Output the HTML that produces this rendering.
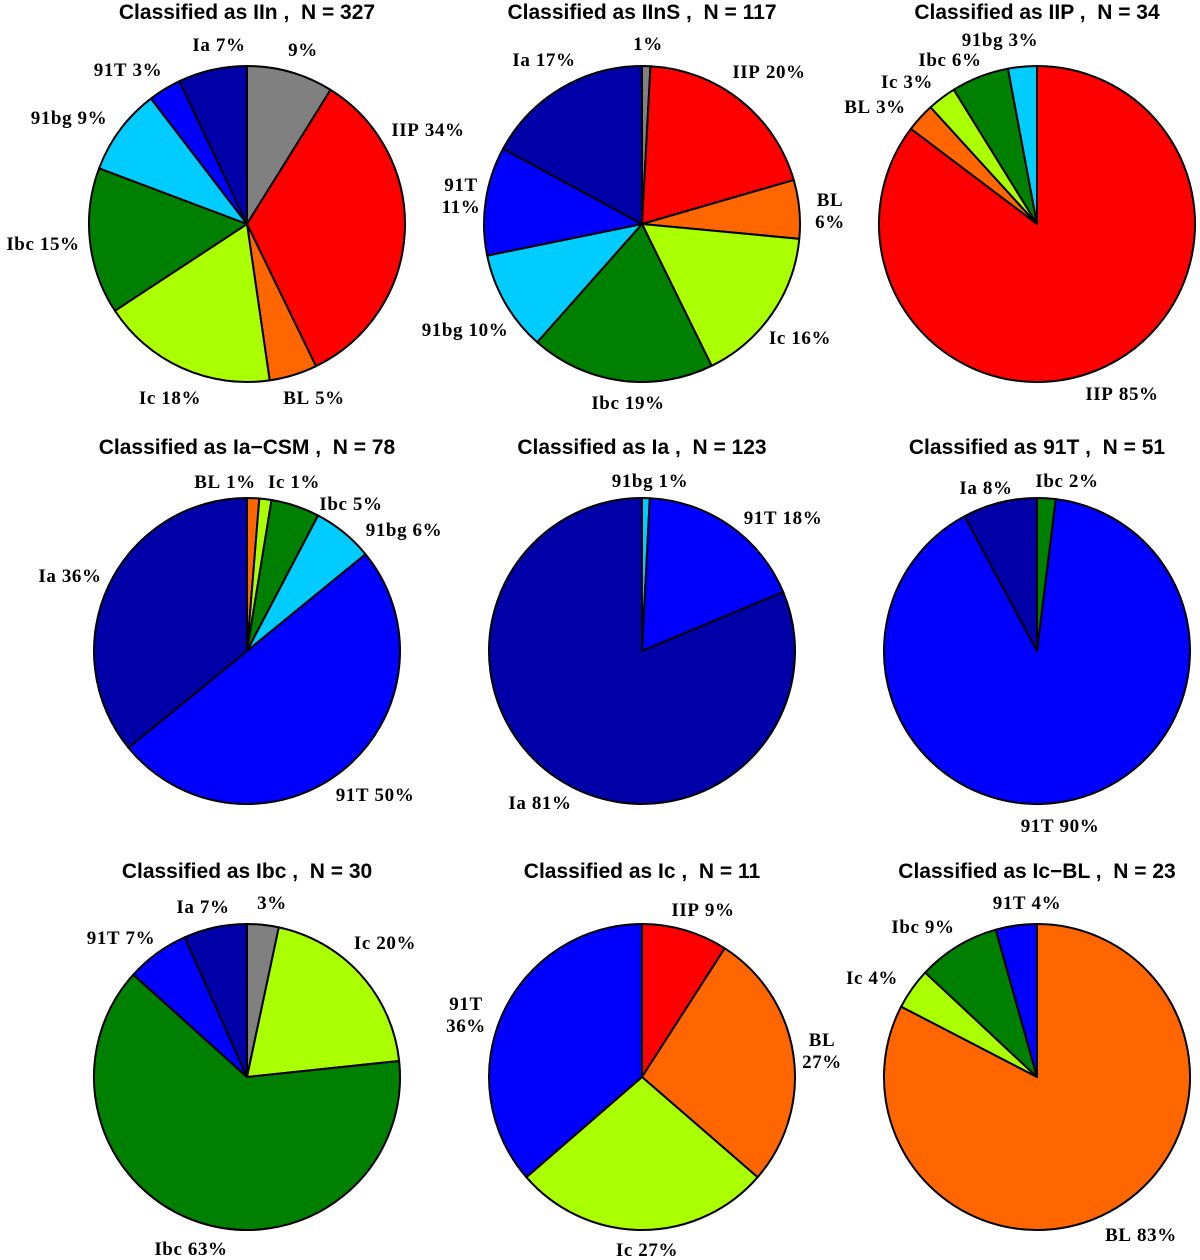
<!DOCTYPE html>
<html><head><meta charset="utf-8"><style>
html,body{margin:0;padding:0;background:#fff;}
svg{display:block;}
.title{font-family:"Liberation Sans",sans-serif;font-weight:bold;font-size:21px;}
.lbl{font-family:"Liberation Serif",serif;font-weight:bold;font-size:19px;letter-spacing:0.6px;}
</style></head><body>
<svg id="chart" width="1200" height="1260" viewBox="0 0 1200 1260"></svg>
<script>
// Data: per-panel titles, N, slice categories (clockwise from 12 o'clock), counts, printed percents
const titles = ["Classified as IIn","Classified as IInS","Classified as IIP","Classified as Ia\u2212CSM","Classified as Ia","Classified as 91T","Classified as Ibc","Classified as Ic","Classified as Ic\u2212BL"];
const totals = [327,117,34,78,123,51,30,11,23];
const cats1 = ["","IIP","BL","Ic","Ibc","91bg","91T","Ia"];
const vals1 = [29,111,16,59,49,29,11,23];
const pcts1 = [9,34,5,18,15,9,3,7];
const cats2 = ["","IIP","BL","Ic","Ibc","91bg","91T","Ia"];
const vals2 = [1,23,7,19,22,12,13,20];
const pcts2 = [1,20,6,16,19,10,11,17];
const cats3 = ["IIP","BL","Ic","Ibc","91bg"];
const vals3 = [29,1,1,2,1];
const pcts3 = [85,3,3,6,3];
const cats4 = ["BL","Ic","Ibc","91bg","91T","Ia"];
const vals4 = [1,1,4,5,39,28];
const pcts4 = [1,1,5,6,50,36];
const cats5 = ["91bg","91T","Ia"];
const vals5 = [1,22,100];
const pcts5 = [1,18,81];
const cats6 = ["Ibc","91T","Ia"];
const vals6 = [1,46,4];
const pcts6 = [2,90,8];
const cats7 = ["","Ic","Ibc","91T","Ia"];
const vals7 = [1,6,19,2,2];
const pcts7 = [3,20,63,7,7];
const cats8 = ["IIP","BL","Ic","91T"];
const vals8 = [1,3,3,4];
const pcts8 = [9,27,27,36];
const cats9 = ["BL","Ic","Ibc","91T"];
const vals9 = [19,1,2,1];
const pcts9 = [83,4,9,4];

const colors = {"":"#808080","IIP":"#ff0000","BL":"#ff6600","Ic":"#aaff00","Ibc":"#008000","91bg":"#00ccff","91T":"#0000ff","Ia":"#0000a8"};
const panels = [[cats1,vals1,pcts1],[cats2,vals2,pcts2],[cats3,vals3,pcts3],[cats4,vals4,pcts4],[cats5,vals5,pcts5],[cats6,vals6,pcts6],[cats7,vals7,pcts7],[cats8,vals8,pcts8],[cats9,vals9,pcts9]];
const splitLabels = {"1-BL":1,"1-91T":1,"7-BL":1,"7-91T":1};
// label placement (center x, center y) per panel-category
const labelPos = {
 "0-":[303,50],"0-IIP":[428,130],"0-BL":[314,398],"0-Ic":[170,398],"0-Ibc":[43,244],"0-91bg":[69,118],"0-91T":[128,70],"0-Ia":[219,45],
 "1-":[648,44],"1-IIP":[769,72],"1-BL":[830,211],"1-Ic":[800,338],"1-Ibc":[628,403],"1-91bg":[465,330],"1-91T":[461,196],"1-Ia":[544,60],
 "2-IIP":[1122,394],"2-BL":[875,107],"2-Ic":[907,82],"2-Ibc":[950,60],"2-91bg":[1000,40],
 "3-BL":[225,482],"3-Ic":[294,482],"3-Ibc":[351,504],"3-91bg":[404,530],"3-91T":[375,795],"3-Ia":[70,576],
 "4-91bg":[650,481],"4-91T":[783,518],"4-Ia":[540,803],
 "5-Ibc":[1067,481],"5-91T":[1060,826],"5-Ia":[986,488],
 "6-":[272,903],"6-Ic":[385,943],"6-Ibc":[191,1249],"6-91T":[121,938],"6-Ia":[203,907],
 "7-IIP":[703,910],"7-BL":[822,1051],"7-Ic":[647,1250],"7-91T":[466,1015],
 "8-BL":[1141,1235],"8-Ic":[872,978],"8-Ibc":[923,927],"8-91T":[1027,903]
};

const NS="http://www.w3.org/2000/svg";
const svg=document.getElementById('chart');
const colX=[247,642,1037], rowY=[224,651,1077], radii=[158,153,153], titleY=[19,454,878];

function mk(tag,attrs){const e=document.createElementNS(NS,tag);for(const k in attrs)e.setAttribute(k,attrs[k]);return e;}

panels.forEach((p,i)=>{
  const [cats,vals,pcts]=p;
  const cx=colX[i%3], cy=rowY[Math.floor(i/3)], r=radii[Math.floor(i/3)];
  const g=mk('g',{});
  
  
  svg.appendChild(g);
  const t=mk('text',{x:cx,y:titleY[Math.floor(i/3)],'text-anchor':'middle',class:'title'});
  t.textContent=titles[i]+" ,\u00a0\u00a0N = "+totals[i];
  
  
  g.appendChild(t);
  const sum=vals.reduce((a,b)=>a+b,0);
  let a0=0;
  vals.forEach((v,j)=>{
    const a1=a0+v/sum*2*Math.PI;
    const x0=cx+r*Math.sin(a0), y0=cy-r*Math.cos(a0);
    const x1=cx+r*Math.sin(a1), y1=cy-r*Math.cos(a1);
    const large=(a1-a0)>Math.PI?1:0;
    const path=mk('path',{d:`M${cx},${cy} L${x0},${y0} A${r},${r} 0 ${large} 1 ${x1},${y1} Z`,fill:colors[cats[j]],stroke:'#000','stroke-width':2,'stroke-linejoin':'round'});
    
    
    g.appendChild(path);
    const name=cats[j];
    const key=i+"-"+name;
    let lx,ly;
    if(labelPos[key]){lx=labelPos[key][0];ly=labelPos[key][1];}
    else{const am=(a0+a1)/2,lr=r+28;lx=cx+lr*Math.sin(am);ly=cy-lr*Math.cos(am);}
    const txt=mk('text',{x:lx,y:ly+6,'text-anchor':'middle',class:'lbl'});
    
    
    if(splitLabels[key]){
      const t1=mk('tspan',{x:lx,dy:-11});t1.textContent=name;
      const t2=mk('tspan',{x:lx,dy:22});t2.textContent=pcts[j]+"%";
      txt.appendChild(t1);txt.appendChild(t2);
    } else {
      txt.textContent=(name?name+"\u00a0":"")+pcts[j]+"%";
    }
    g.appendChild(txt);
    a0=a1;
  });
});
</script>
</body></html>
